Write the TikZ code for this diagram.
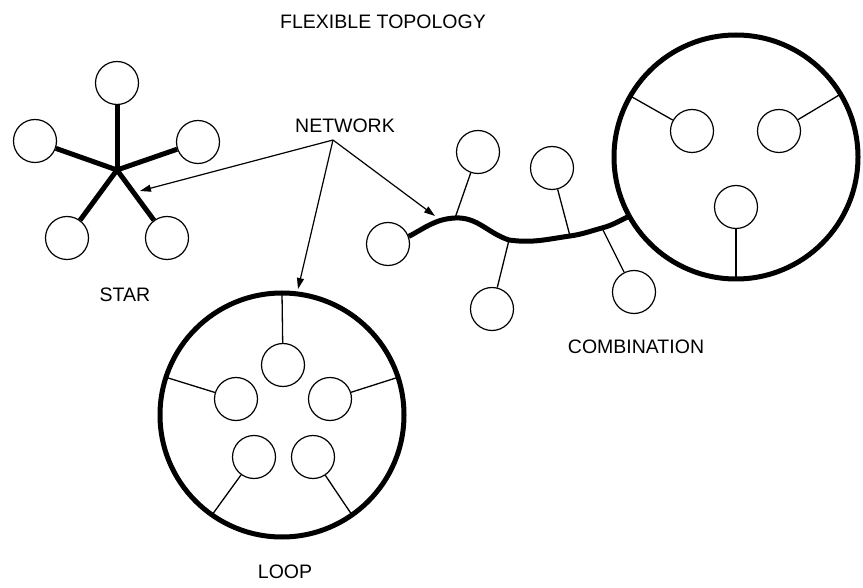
\documentclass[tikz,border=0pt]{standalone}
\usepackage{fontspec}
\setmainfont{Liberation Sans}
\usetikzlibrary{arrows.meta}
\begin{document}
\begin{tikzpicture}[x=1pt,y=-1pt,
  dev/.style={circle,draw,line width=1.2pt,minimum size=43pt,inner sep=0pt},
  ring/.style={circle,draw,line width=5pt,minimum size=244pt,inner sep=0pt,outer sep=0pt},
  link/.style={line width=1.3pt},
  spoke/.style={line width=5pt},
  busline/.style={line width=5pt},
  ptr/.style={line width=1.2pt,-{Triangle[length=11pt,width=7pt]}},
  lbl/.style={font=\fontsize{19.5}{22}\selectfont,inner sep=0pt}]
\useasboundingbox (0,0) rectangle (863,588);

% labels
\node[lbl] (title) at (383,22) {FLEXIBLE TOPOLOGY};
\node[lbl] (net) at (345,126) {NETWORK};
\node[lbl] (starlbl) at (125,295) {STAR};
\node[lbl] (comblbl) at (636,347) {COMBINATION};
\node[lbl] (looplbl) at (285,572) {LOOP};

% STAR
\coordinate (hub) at (117,170);
\node[dev] (s1) at (117,83) {};
\node[dev] (s2) at (35,141) {};
\node[dev] (s3) at (198,142) {};
\node[dev] (s4) at (67,238) {};
\node[dev] (s5) at (167,238) {};
\foreach \s in {s1,s2,s3,s4,s5} \draw[spoke] (hub) -- (\s);

% LOOP
\node[ring] (L) at (282,415) {};
\node[dev] (l1) at (283,365) {};
\node[dev] (l2) at (236,399) {};
\node[dev] (l3) at (330,399) {};
\node[dev] (l4) at (254,457) {};
\node[dev] (l5) at (313,457) {};
\draw[link] (l1) -- (L.90);
\draw[link] (l2) -- (L.162);
\draw[link] (l3) -- (L.18);
\draw[link] (l4) -- (L.235);
\draw[link] (l5) -- (L.305);

% COMBINATION
\node[ring] (C) at (736,157) {};
\node[dev] (c1) at (692,131) {};
\node[dev] (c2) at (779,131) {};
\node[dev] (c3) at (736,207) {};
\draw[link] (c1) -- (C.150);
\draw[link] (c2) -- (C.31);
\draw[link] (c3) -- (C.270);

\node[dev] (cl) at (388,244) {};
\node[dev] (t1) at (478,152) {};
\node[dev] (t2) at (552,168) {};
\node[dev] (d1) at (492,309) {};
\node[dev] (d2) at (634,292) {};
\coordinate (b0) at (cl.20);
\coordinate (b1) at (455,218);
\coordinate (b2) at (509,240);
\coordinate (b3) at (570,236);
\coordinate (b4) at (602,228);
\coordinate (b5) at (C.209);
\draw[busline] (b0) to[out=28,in=183] (b1) to[out=3,in=162] (b2)
  to[out=-8,in=188] (b3) to[out=8,in=195] (b4) to[out=15,in=205] (b5);
\draw[link] (t1) -- (b1);
\draw[link] (t2) -- (b3);
\draw[link] (d1) -- (b2);
\draw[link] (d2) -- (b4);

% NETWORK pointers
\coordinate (n0) at (333,140);
\coordinate (a1) at (140,191);
\coordinate (a2) at (298,289);
\coordinate (a3) at (435,216);
\draw[ptr] (n0) -- (a1);
\draw[ptr] (n0) -- (a2);
\draw[ptr] (n0) -- (a3);
\end{tikzpicture}
\end{document}
